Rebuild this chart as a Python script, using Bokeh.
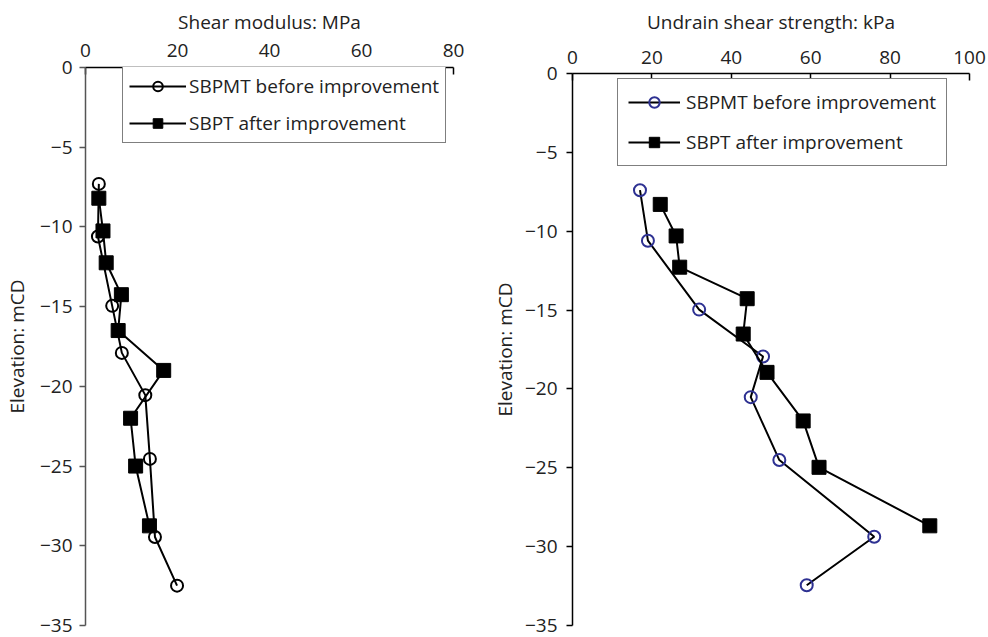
from bokeh.plotting import figure
from bokeh.layouts import row, column
from bokeh.models import Range1d, FixedTicker, CustomJSTickFormatter, Legend, LegendItem
from bokeh.embed import file_html
from bokeh.resources import INLINE

# ---------------- data ----------------
series_names = ["SBPMT before improvement", "SBPT after improvement"]

# Left: shear modulus (MPa) vs elevation (mCD)
g_before_elev = [-7.3, -10.6, -14.95, -17.9, -20.55, -24.55, -29.45, -32.5]
g_before_val = [2.9, 2.7, 5.8, 7.9, 13.0, 14.0, 15.1, 19.9]
g_after_elev = [-8.2, -10.25, -12.25, -14.25, -16.5, -19.0, -22.0, -25.0, -28.75]
g_after_val = [2.9, 3.8, 4.5, 7.8, 7.1, 17.0, 9.8, 10.9, 13.9]

# Right: undrained shear strength (kPa) vs elevation (mCD)
s_before_elev = [-7.4, -10.6, -14.97, -17.94, -20.52, -24.51, -29.37, -32.45]
s_before_val = [17.0, 19.0, 31.9, 48.0, 44.9, 52.1, 76.0, 59.0]
s_after_elev = [-8.3, -10.3, -12.28, -14.28, -16.52, -18.95, -22.03, -24.97, -28.68]
s_after_val = [22.1, 26.1, 27.0, 44.0, 43.0, 49.0, 58.1, 62.1, 90.0]

left_xticks = [0, 20, 40, 60, 80]
right_xticks = [0, 20, 40, 60, 80, 100]
yticks = [0, -5, -10, -15, -20, -25, -30, -35]

left_xlabel = "Shear modulus: MPa"
right_xlabel = "Undrain shear strength: kPa"
ylabel = "Elevation: mCD"

FONT = "Open Sans"
FS = "19px"
fmt_code = "return tick < 0 ? '\u2212' + Math.abs(tick) : String(tick);"


def style(p, xticks, xlabel, yaxis_color, xtick_standoff, xlab_standoff,
          ylab_standoff, ytick_standoff):
    p.xgrid.visible = False
    p.ygrid.visible = False
    p.outline_line_color = None
    xa = p.xaxis[0]
    ya = p.yaxis[0]
    xa.ticker = FixedTicker(ticks=xticks)
    ya.ticker = FixedTicker(ticks=yticks)
    xa.formatter = CustomJSTickFormatter(code=fmt_code)
    ya.formatter = CustomJSTickFormatter(code=fmt_code)
    xa.axis_label = xlabel
    ya.axis_label = ylabel
    for a in (xa, ya):
        a.minor_tick_line_color = None
        a.axis_label_text_font = FONT
        a.axis_label_text_font_style = "normal"
        a.axis_label_text_font_size = FS
        a.axis_label_text_color = "#222222"
        a.major_label_text_font = FONT
        a.major_label_text_font_size = FS
        a.major_label_text_color = "#222222"
        a.axis_line_width = 1.5
        a.major_tick_line_width = 1.5
    xa.axis_line_color = "black"
    xa.major_tick_line_color = "black"
    xa.major_tick_in = 7
    xa.major_tick_out = 0
    xa.major_label_standoff = xtick_standoff
    xa.axis_label_standoff = xlab_standoff
    ya.axis_line_color = yaxis_color
    ya.major_tick_line_color = yaxis_color
    ya.major_tick_in = 0
    ya.major_tick_out = 6
    ya.major_label_standoff = ytick_standoff
    ya.axis_label_standoff = ylab_standoff


def add_series(p, bx, by, ax, ay, circle_color, circle_size, sq_size):
    l1 = p.line(bx, by, line_color="black", line_width=2)
    s1 = p.scatter(bx, by, marker="circle", size=circle_size, fill_color=None,
                   line_color=circle_color, line_width=2)
    l2 = p.line(ax, ay, line_color="black", line_width=2)
    s2 = p.scatter(ax, ay, marker="square", size=sq_size, fill_color="black",
                   line_color="black", line_width=1)
    return [l1, s1], [l2, s2]


def make_legend(ra, rb, loc, padding, spacing, gh, gw, standoff):
    return Legend(items=[LegendItem(label=series_names[0], renderers=ra),
                         LegendItem(label=series_names[1], renderers=rb)],
                  location=loc, orientation="vertical",
                  padding=padding, spacing=spacing, glyph_height=gh, label_height=gh,
                  glyph_width=gw, label_standoff=standoff, margin=0,
                  label_text_font=FONT, label_text_font_size=FS,
                  label_text_color="#222222",
                  border_line_color="black", border_line_width=1.3,
                  background_fill_color="white", background_fill_alpha=1.0)


# ---------------- left figure ----------------
p1 = figure(width=488, height=637, output_backend="svg", toolbar_location=None,
            x_range=Range1d(0, 80), y_range=Range1d(-35, 0),
            x_axis_location="above",
            min_border_left=85, min_border_right=35, min_border_top=67, min_border_bottom=12)
style(p1, left_xticks, left_xlabel, "#555555", 11, 6, 7, 7)
r1a, r1b = add_series(p1, g_before_val, g_before_elev, g_after_val, g_after_elev,
                      "black", 12, 14)
p1.add_layout(make_legend(r1a, r1b, (37, 482), 6, 11, 24, 57, 3), "center")

# ---------------- right figure ----------------
p2 = figure(width=500, height=637, output_backend="svg", toolbar_location=None,
            x_range=Range1d(0, 100), y_range=Range1d(-35, 0),
            x_axis_location="above",
            min_border_left=82, min_border_right=19, min_border_top=73, min_border_bottom=12)
style(p2, right_xticks, right_xlabel, "black", 10, 13, 4, 9)
r2a, r2b = add_series(p2, s_before_val, s_before_elev, s_after_val, s_after_elev,
                      "#2e3192", 12, 14)
p2.add_layout(make_legend(r2a, r2b, (45, 459), 10, 14, 26, 52, 6), "center")

layout = row(column(p1), column(p2))
open("out.html", "w").write(file_html(layout, INLINE))
